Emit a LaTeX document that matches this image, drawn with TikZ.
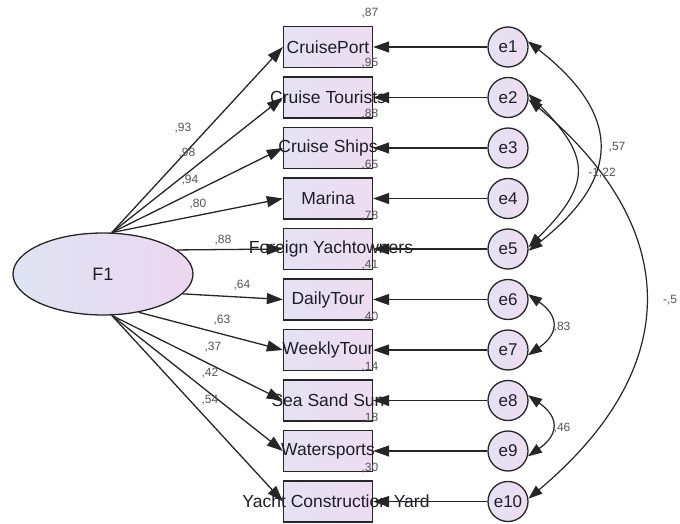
\documentclass[tikz,border=0pt]{standalone}
\usepackage{fontspec}
\setmainfont{Liberation Sans}
\usetikzlibrary{arrows.meta,shapes.geometric}
\definecolor{lineC}{RGB}{38,38,38}
\definecolor{txt}{RGB}{30,30,40}
\definecolor{lblC}{RGB}{85,85,85}
\definecolor{ellL}{RGB}{222,228,243}
\definecolor{ellR}{RGB}{236,214,240}
\definecolor{boxL}{RGB}{228,226,243}
\definecolor{boxR}{RGB}{238,220,241}
\begin{document}
\begin{tikzpicture}[x=1pt,y=1pt,
  obs/.style={rectangle, draw=lineC, line width=1.3pt, minimum width=89pt, minimum height=41pt, inner sep=0pt, left color=boxL, right color=boxR, font=\fontsize{17.5}{19}\selectfont, text=txt},
  errc/.style={circle, draw=lineC, line width=1.3pt, minimum size=40pt, inner sep=0pt, left color=boxL, right color=boxR, font=\fontsize{17}{19}\selectfont, text=txt},
  lat/.style={ellipse, draw=lineC, line width=1.3pt, minimum width=180pt, minimum height=82pt, inner sep=0pt, left color=ellL, right color=ellR, font=\fontsize{18}{19}\selectfont, text=txt},
  arr/.style={-{Triangle[length=16pt,width=11pt]}, line width=1.3pt, draw=lineC},
  cov/.style={{Triangle[length=14pt,width=10pt]}-{Triangle[length=14pt,width=10pt]}, line width=1.2pt, draw=lineC},
  lbl/.style={font=\fontsize{12}{13}\selectfont, text=lblC, inner sep=0pt}]
\useasboundingbox (0,0) rectangle (680,-524);
\fill[white] (0,0) rectangle (680,-524);

% latent
\node[lat] (F1) at (103,-274) {F1};

% observed boxes
\node[obs] (b1) at (328,-47) {\makebox[0pt]{CruisePort}};
\node[obs] (b2) at (328,-97.5) {\makebox[0pt]{Cruise Tourists}};
\node[obs] (b3) at (328,-148) {\makebox[0pt]{Cruise Ships}};
\node[obs] (b4) at (328,-198.5) {\makebox[0pt]{Marina}};
\node[obs] (b5) at (328,-249) {\makebox[0pt]{\hspace{6pt}Foreign Yachtowners}};
\node[obs] (b6) at (328,-299.5) {\makebox[0pt]{DailyTour}};
\node[obs] (b7) at (328,-350) {\makebox[0pt]{WeeklyTour}};
\node[obs] (b8) at (328,-400.5) {\makebox[0pt]{Sea Sand Sun}};
\node[obs] (b9) at (328,-451) {\makebox[0pt]{Watersports}};
\node[obs] (b10) at (328,-501.5) {\makebox[0pt]{\hspace{16pt}Yacht Construction Yard}};

% error terms
\node[errc] (e1) at (508,-47) {e1};
\node[errc] (e2) at (508,-97.5) {e2};
\node[errc] (e3) at (508,-148) {e3};
\node[errc] (e4) at (508,-198.5) {e4};
\node[errc] (e5) at (508,-249) {e5};
\node[errc] (e6) at (508,-299.5) {e6};
\node[errc] (e7) at (508,-350) {e7};
\node[errc] (e8) at (508,-400.5) {e8};
\node[errc] (e9) at (508,-451) {e9};
\node[errc] (e10) at (508,-501.5) {e10};

% fan points on F1
\coordinate (ft) at (F1.78);
\coordinate (fb) at (F1.-78);

% loadings
\draw[arr] (ft) -- (b1.west);
\draw[arr] (ft) -- (b2.west);
\draw[arr] (ft) -- (b3.west);
\draw[arr] (ft) -- (b4.west);
\draw[arr] (F1.18) -- (b5.west);
\draw[arr] (F1.-14) -- (b6.west);
\draw[arr] (F1.-47) -- (b7.west);
\draw[arr] (fb) -- (b8.west);
\draw[arr] (fb) -- (b9.west);
\draw[arr] (fb) -- (b10.west);

% error arrows
\draw[arr] (e1.west) -- (b1.east);
\draw[arr] (e2.west) -- (b2.east);
\draw[arr] (e3.west) -- (b3.east);
\draw[arr] (e4.west) -- (b4.east);
\draw[arr] (e5.west) -- (b5.east);
\draw[arr] (e6.west) -- (b6.east);
\draw[arr] (e7.west) -- (b7.east);
\draw[arr] (e8.west) -- (b8.east);
\draw[arr] (e9.west) -- (b9.east);
\draw[arr] (e10.west) -- (b10.east);

% covariances
\draw[cov] (e1.16) to[out=-38,in=38,looseness=1.45] (e5.-5);
\draw[cov] (e2.10) to[out=-45,in=45,looseness=1.5] (e5.5);
\draw[cov] (e2.-5) to[out=-40,in=40,looseness=1.3] (e10.8);
\draw[cov] (e6.15) to[out=-35,in=35,looseness=1.6] (e7.-15);
\draw[cov] (e8.15) to[out=-35,in=35,looseness=1.6] (e9.-15);

% loading labels
\node[lbl] (l1) at (183,-128) {,93};
\node[lbl] (l2) at (187,-153) {,98};
\node[lbl] (l3) at (190,-180) {,94};
\node[lbl] (l4) at (198,-204) {,80};
\node[lbl] (l5) at (223,-240) {,88};
\node[lbl] (l6) at (242,-285) {,64};
\node[lbl] (l7) at (222,-320) {,63};
\node[lbl] (l8) at (213,-347) {,37};
\node[lbl] (l9) at (210,-373) {,42};
\node[lbl] (l10) at (210,-400) {,54};

% R2 labels
\node[lbl] (r1) at (370,-13) {,87};
\node[lbl] (r2) at (370,-63) {,95};
\node[lbl] (r3) at (370,-114) {,88};
\node[lbl] (r4) at (370,-165) {,65};
\node[lbl] (r5) at (370,-216) {,78};
\node[lbl] (r6) at (370,-265) {,41};
\node[lbl] (r7) at (370,-317) {,40};
\node[lbl] (r8) at (370,-367) {,14};
\node[lbl] (r9) at (370,-418) {,18};
\node[lbl] (r10) at (370,-468) {,30};

% covariance labels
\node[lbl] (c1) at (617,-147) {,57};
\node[lbl] (c2) at (602,-173) {-1,22};
\node[lbl] (c3) at (670,-300) {-,5};
\node[lbl] (c4) at (562,-327) {,83};
\node[lbl] (c5) at (562,-428) {,46};
\end{tikzpicture}
\end{document}
